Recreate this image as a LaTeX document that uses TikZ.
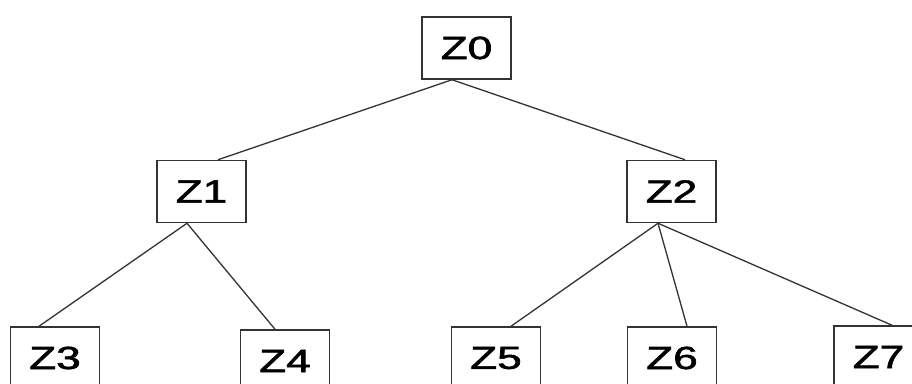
\documentclass[tikz,border=0pt]{standalone}
\usepackage{fontspec}
\setmainfont{Liberation Sans}
\newfontfamily\labelfont[FakeBold=1.6]{Liberation Sans}
\begin{document}
\begin{tikzpicture}[x=1pt,y=1pt,
  treebox/.style={draw=black!80, line width=1.5pt, fill=white, rectangle,
    minimum width=89pt, minimum height=62pt, inner sep=0pt,
    font=\labelfont\fontsize{32}{32}\selectfont},
  branch/.style={draw=black!80, line width=1.3pt}]
\useasboundingbox (0,0) rectangle (912,383);
\clip (0,0) rectangle (912,383);
\fill[white] (0,0) rectangle (912,383);
% nodes (y measured upwards from the bottom edge)
\node[treebox] (z0) at (466.5,335) {\scalebox{1.38}[1]{Z0}};
\node[treebox] (z1) at (201.5,191.5) {\scalebox{1.38}[1]{Z1}};
\node[treebox] (z2) at (671.5,191.5) {\scalebox{1.38}[1]{Z2}};
\node[treebox] (z3) at (55,25) {\scalebox{1.38}[1]{Z3}};
\node[treebox] (z4) at (285,22) {\scalebox{1.38}[1]{Z4}};
\node[treebox] (z5) at (496,25) {\scalebox{1.38}[1]{Z5}};
\node[treebox] (z6) at (672,25) {\scalebox{1.38}[1]{Z6}};
\node[treebox] (z7) at (878.5,26) {\scalebox{1.38}[1]{Z7}};
% branches
\draw[branch] ([xshift=-14.5pt]z0.south) -- ([xshift=16.5pt]z1.north);
\draw[branch] ([xshift=-14.5pt]z0.south) -- ([xshift=13.5pt]z2.north);
\draw[branch] ([xshift=-14.5pt]z1.south) -- ([xshift=-16pt]z3.north);
\draw[branch] ([xshift=-14.5pt]z1.south) -- ([xshift=-10pt]z4.north);
\draw[branch] ([xshift=-13.5pt]z2.south) -- ([xshift=15pt]z5.north);
\draw[branch] ([xshift=-13.5pt]z2.south) -- ([xshift=15pt]z6.north);
\draw[branch] ([xshift=-13.5pt]z2.south) -- ([xshift=13.5pt]z7.north);
\end{tikzpicture}
\end{document}
